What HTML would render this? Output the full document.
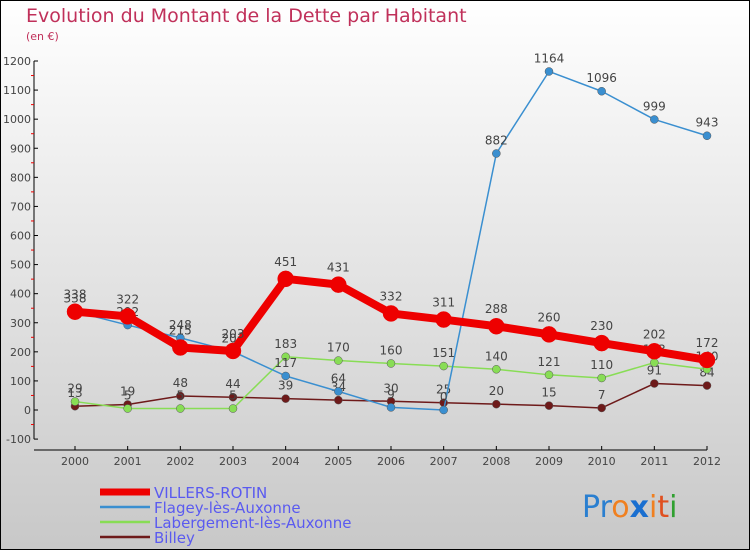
<!DOCTYPE html>
<html><head><meta charset="utf-8"><style>
body{margin:0;width:750px;height:550px;overflow:hidden;font-family:"DejaVu Sans","Liberation Sans",sans-serif;}
</style></head><body>
<svg id="chart" width="750" height="550" xmlns="http://www.w3.org/2000/svg">
<defs><linearGradient id="bg" x1="0" y1="0" x2="0" y2="1"><stop offset="0" stop-color="#ffffff"/><stop offset="1" stop-color="#c8c8c8"/></linearGradient></defs>
<rect x="0.5" y="0.5" width="749" height="549" fill="url(#bg)" stroke="#000"/>
<text x="26" y="22" font-size="19" fill="#c0305a">Evolution du Montant de la Dette par Habitant</text>
<text x="26" y="40" font-size="11" fill="#c0305a">(en €)</text>
<g id="axes"></g><g id="series"></g><g id="legend"></g>
<g font-size="30" font-family="DejaVu Sans, sans-serif">
<text x="582" y="517"><tspan fill="#2a7fd0">Pr</tspan><tspan fill="#f08020">o</tspan><tspan fill="#1a6fd0" font-weight="bold">x</tspan><tspan fill="#f08020">i</tspan><tspan fill="#e05020">t</tspan><tspan fill="#30a030">i</tspan></text>
</g>
</svg>
<script>
const years=["2000","2001","2002","2003","2004","2005","2006","2007","2008","2009","2010","2011","2012"];
const villers=[338,322,215,203,451,431,332,311,288,260,230,202,172];
const flagey=[338,292,248,201,117,64,9,0,882,1164,1096,999,943];
const labergement=[29,5,5,5,183,170,160,151,140,121,110,163,140];
const billey=[13,19,48,44,39,34,30,25,20,15,7,91,84];
const yTicks=[-100,0,100,200,300,400,500,600,700,800,900,1000,1100,1200];
const NS="http://www.w3.org/2000/svg";
const X=i=>75+i*(707-75)/12;
const Y=v=>410-v*(410-61)/1200;
function mk(p,t,a){const e=document.createElementNS(NS,t);for(const k in a)e.setAttribute(k,a[k]);p.appendChild(e);return e;}
const ax=document.getElementById('axes');
let l=mk(ax,'line',{x1:34,y1:Y(1200),x2:34,y2:Y(-100),stroke:'#000'});


l=mk(ax,'line',{x1:34,y1:450,x2:707,y2:450,stroke:'#000'});


yTicks.forEach(v=>{
  mk(ax,'line',{x1:34,y1:Y(v),x2:38,y2:Y(v),stroke:'#000'});
  if(v<1200) mk(ax,'line',{x1:31,y1:Y(v+50),x2:34,y2:Y(v+50),stroke:'#e00'});
  const t=mk(ax,'text',{x:31,y:Y(v)+4,'font-size':11,'text-anchor':'end',fill:'#444'});
  t.textContent=v;
  
  
});
years.forEach((y,i)=>{
  mk(ax,'line',{x1:X(i),y1:446,x2:X(i),y2:450,stroke:'#000'});
  const t=mk(ax,'text',{x:X(i),y:465,'font-size':11,'text-anchor':'middle',fill:'#444'});
  t.textContent=y;
  
  
});
const series=[
 {name:'billey',label:'Billey',data:billey,c:'#6e1a1a',w:1.5,r:4},
 {name:'labergement',label:'Labergement-lès-Auxonne',data:labergement,c:'#88dd55',w:1.5,r:4},
 {name:'flagey',label:'Flagey-lès-Auxonne',data:flagey,c:'#3a8fd0',w:1.5,r:4},
 {name:'villers-rotin',label:'VILLERS-ROTIN',data:villers,c:'#ee0000',w:8,r:8}];
const sg=document.getElementById('series');
series.forEach(s=>{
  const g=mk(sg,'g',{});
  
  
  const p=mk(g,'polyline',{points:s.data.map((v,i)=>X(i)+','+Y(v)).join(' '),fill:'none',stroke:s.c,'stroke-width':s.w,'stroke-linejoin':'round'});
  
  
  s.data.forEach((v,i)=>{
    const c=mk(g,'circle',{cx:X(i),cy:Y(v),r:s.r,fill:s.c,stroke:s.r>4?s.c:'#555','stroke-width':0.5});
    
    
    const t=mk(g,'text',{x:X(i),y:Y(v)-s.r-5,'font-size':12,'text-anchor':'middle',fill:'#444'});
    t.textContent=v;
    
    
  });
});
const lg=document.getElementById('legend');
[...series].reverse().forEach((s,i)=>{
  const y=492+i*15;
  const g=mk(lg,'g',{});
  
  
  mk(g,'line',{x1:100,y1:y,x2:150,y2:y,stroke:s.c,'stroke-width':s.w>2?7:2.5});
  const t=mk(g,'text',{x:154,y:y+6,'font-size':15,fill:'#5a5af0'});
  t.textContent=s.label;
});
</script>
</body></html>
